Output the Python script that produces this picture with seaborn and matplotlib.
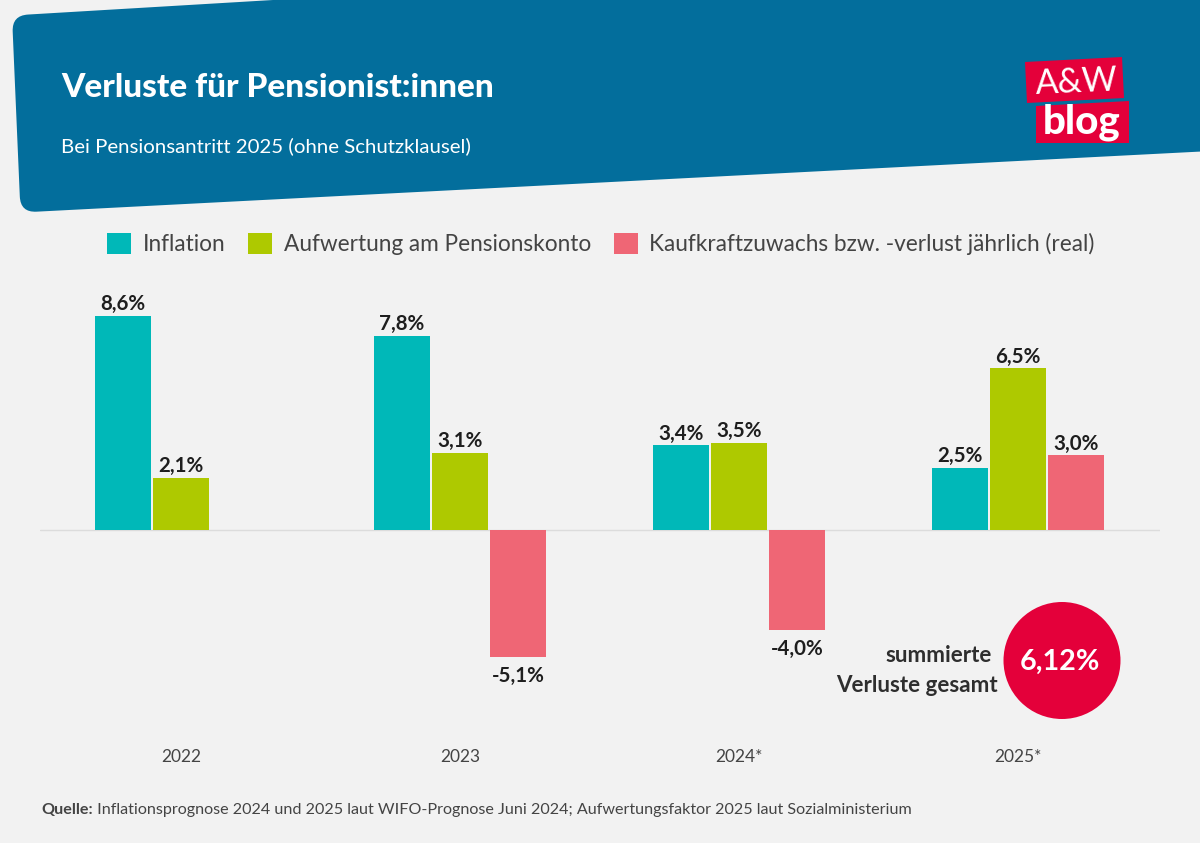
import matplotlib
matplotlib.use("Agg")
import numpy as np
import pandas as pd
import seaborn as sns
import matplotlib.pyplot as plt
from matplotlib.patches import Circle, PathPatch, Polygon
from matplotlib.path import Path

years = ["2022", "2023", "2024*", "2025*"]
series_names = ["Inflation", "Aufwertung am Pensionskonto", "Kaufkraftzuwachs bzw. -verlust jährlich (real)"]
inflation = [8.6, 7.8, 3.4, 2.5]
aufwertung = [2.1, 3.1, 3.5, 6.5]
real = [np.nan, -5.1, -4.0, 3.0]
colors = ["#00B8B8", "#AEC900", "#EF6675"]
BG = "#F2F2F2"; BLUE = "#036E9C"; RED = "#E4003A"; DARK = "#2E2E2E"; GREY = "#444444"

sns.set_style("white")
plt.rcParams["font.family"] = ["Lato", "DejaVu Sans"]
W, H = 1200, 843
fig = plt.figure(figsize=(12, 8.43), dpi=100, facecolor=BG)

# pixel overlay
bg = fig.add_axes([0, 0, 1, 1], zorder=0)
bg.set_xlim(0, W); bg.set_ylim(H, 0); bg.axis("off")

def rounded(pts, r):
    verts, codes = [], []
    n = len(pts)
    for i in range(n):
        p = np.array(pts[i], float); a = np.array(pts[i-1], float); b = np.array(pts[(i+1) % n], float)
        rad = r[i]
        p1 = p + (a-p)/np.linalg.norm(a-p)*rad
        p2 = p + (b-p)/np.linalg.norm(b-p)*rad
        if i == 0:
            verts.append(p1); codes.append(Path.MOVETO)
        else:
            verts.append(p1); codes.append(Path.LINETO)
        verts += [p, p2]; codes += [Path.CURVE3, Path.CURVE3]
    verts.append(verts[0]); codes.append(Path.CLOSEPOLY)
    return Path(verts, codes)

bg.add_patch(PathPatch(rounded([(12, 15.5), (1250, -58), (1250, 149), (20.5, 212.5)], [16, 0.01, 0.01, 16]),
                       fc=BLUE, ec="none"))
bg.text(61, 87.5, "Verluste für Pensionist:innen", color="white", fontsize=24, fontweight="black",
        va="center", ha="left")
bg.text(61, 146, "Bei Pensionsantritt 2025 (ohne Schutzklausel)", color="white", fontsize=14.7,
        va="center", ha="left")

# logo
bg.add_patch(Polygon([(1025, 62), (1122, 57), (1124, 98), (1027, 103)], fc=RED, ec="none"))
bg.add_patch(Polygon([(1036, 106), (1129, 101), (1129, 143), (1036, 143)], fc=RED, ec="none"))
bg.text(1077, 82, "A&W", color="white", fontsize=24.5, rotation=2.5, ha="center", va="center")
bg.text(1082, 122, "blog", color="white", fontsize=29, fontweight="black", ha="center", va="center")

# circle and note
bg.add_patch(Circle((1062, 660.5), 58.5, fc=RED, ec="none"))
bg.text(1060, 661.5, "6,12%", color="white", fontsize=20.6, fontweight="bold", ha="center", va="center")
bg.text(992, 655, "summierte", color=DARK, fontsize=16.1, fontweight="bold", ha="right", va="center")
bg.text(998, 685, "Verluste gesamt", color=DARK, fontsize=16.1, fontweight="bold", ha="right", va="center")

# source
q = bg.text(41, 810, "Quelle:", color=GREY, fontsize=11.65, fontweight="bold", ha="left", va="center")
bg.annotate(" Inflationsprognose 2024 und 2025 laut WIFO-Prognose Juni 2024; Aufwertungsfaktor 2025 laut Sozialministerium",
            xy=(1, 0.5), xycoords=q, va="center", ha="left", color=GREY, fontsize=11.65)

# chart
df = pd.DataFrame({
    "Jahr": years * 3,
    "Reihe": np.repeat(series_names, 4),
    "Wert": inflation + aufwertung + real,
})
left, right, top, bottom = 40, 1160, 290, 745
ax = fig.add_axes([left/W, 1-bottom/H, (right-left)/W, (bottom-top)/H], zorder=2)
ax.patch.set_alpha(0)
sns.barplot(data=df, x="Jahr", y="Wert", hue="Reihe", order=years, hue_order=series_names,
            palette=colors, saturation=1, width=0.623, gap=0.035, ax=ax, errorbar=None, linewidth=0)
scale = 24.88
ax.set_ylim((530-bottom)/scale, (530-top)/scale)
ax.set_xlim(-0.505, 3.509)
ax.axhline(0, color="#DCDCDC", lw=1, zorder=0)
fmt = lambda v: f"{v:.1f}%".replace(".", ",")
for c in ax.containers:
    pos = [fmt(v) if v > 0 else "" for v in c.datavalues]
    neg = [fmt(v) if v < 0 else "" for v in c.datavalues]
    ax.bar_label(c, labels=pos, padding=1.2, fontsize=14.8, fontweight="bold", color="#1E1E1E")
    ax.bar_label(c, labels=neg, padding=6.5, fontsize=14.8, fontweight="bold", color="#1E1E1E")
sns.despine(ax=ax, left=True, bottom=True)
ax.set_xlabel(""); ax.set_ylabel(""); ax.set_yticks([])
ax.tick_params(axis="x", length=0, pad=2.7, labelsize=12.5, labelcolor=GREY)
ax.legend(loc="center left", bbox_to_anchor=(107/1120 - 40/1120, (745-244)/455), frameon=False, ncol=3,
          fontsize=16.3, handlelength=1.08, handleheight=1.08, handletextpad=0.5, columnspacing=1.0,
          borderpad=0, borderaxespad=0, labelcolor=GREY, title=None)
fig.savefig("out.png", dpi=100, facecolor=BG)
